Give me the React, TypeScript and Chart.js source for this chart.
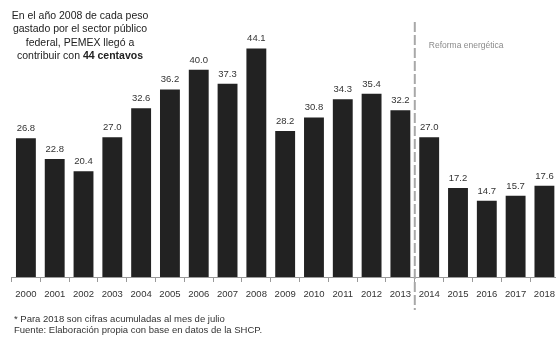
import React, { useEffect, useRef } from "react";
import { Chart, registerables } from "chart.js";

Chart.register(...registerables);

const years = ["2000","2001","2002","2003","2004","2005","2006","2007","2008","2009","2010","2011","2012","2013","2014","2015","2016","2017","2018"];
const values = [26.8, 22.8, 20.4, 27.0, 32.6, 36.2, 40.0, 37.3, 44.1, 28.2, 30.8, 34.3, 35.4, 32.2, 27.0, 17.2, 14.7, 15.7, 17.6];
const reformIndex = 14;
const titleLines = ["En el año 2008 de cada peso", "gastado por el sector público", "federal, PEMEX llegó a"];
const titleLast = "contribuir con ";
const titleBold = "44 centavos";
const reformLabel = "Reforma energética";
const footnotes = ["* Para 2018 son cifras acumuladas al mes de julio", "Fuente: Elaboración propia con base en datos de la SHCP."];

const FONT = "'Liberation Sans', Arial, sans-serif";

const overlay = {
  id: "overlay",
  afterDatasetsDraw(chart: any) {
    const ctx = chart.ctx;
    const meta = chart.getDatasetMeta(0);
    ctx.save();
    ctx.fillStyle = "#333";
    ctx.font = `9.5px ${FONT}`;
    ctx.textAlign = "center";
    ctx.textBaseline = "bottom";
    meta.data.forEach((bar: any, i: number) => {
      ctx.fillText(values[i].toFixed(1), bar.x, bar.y - 5);
    });
    const xs = chart.scales.x;
    const lx = (xs.getPixelForValue(reformIndex - 1) + xs.getPixelForValue(reformIndex)) / 2;
    ctx.strokeStyle = "#a8a8a8";
    ctx.lineWidth = 2;
    ctx.setLineDash([10, 3]);
    ctx.beginPath();
    ctx.moveTo(lx, 22);
    ctx.lineTo(lx, 310);
    ctx.stroke();
    ctx.setLineDash([]);
    ctx.fillStyle = "#8a8a8a";
    ctx.textAlign = "left";
    ctx.textBaseline = "middle";
    ctx.font = `8.5px ${FONT}`;
    ctx.fillText(reformLabel, lx + 14, 46);
    // title
    ctx.fillStyle = "#222";
    ctx.textAlign = "center";
    const fs = 10.5;
    ctx.font = `${fs}px ${FONT}`;
    const cx = 80;
    titleLines.forEach((t, i) => ctx.fillText(t, cx, 16 + i * 13.5));
    const y4 = 16 + 3 * 13.5;
    const w1 = ctx.measureText(titleLast).width;
    ctx.font = `bold ${fs}px ${FONT}`;
    const w2 = ctx.measureText(titleBold).width;
    const sx = cx - (w1 + w2) / 2;
    ctx.textAlign = "left";
    ctx.font = `${fs}px ${FONT}`;
    ctx.fillText(titleLast, sx, y4);
    ctx.font = `bold ${fs}px ${FONT}`;
    ctx.fillText(titleBold, sx + w1, y4);
    // footnotes
    ctx.fillStyle = "#333";
    ctx.font = `9.5px ${FONT}`;
    footnotes.forEach((t, i) => ctx.fillText(t, 14, 319 + i * 11.5));
    ctx.restore();
  },
};

export default function App() {
  const ref = useRef<HTMLCanvasElement>(null);
  useEffect(() => {
    const chart = new Chart(ref.current!, {
      type: "bar",
      data: {
        labels: years,
        datasets: [{ data: values, backgroundColor: "#222", borderWidth: 0, barPercentage: 0.69, categoryPercentage: 1 }],
      },
      options: {
        animation: false,
        responsive: false,
        maintainAspectRatio: false,
        layout: { padding: { left: 11.5, right: 0.5, top: 18, bottom: 0 } },
        plugins: { legend: { display: false }, tooltip: { enabled: false } },
        scales: {
          x: {
            afterFit(scale: any) { scale.height = 62; },
            grid: { display: true, drawOnChartArea: false, drawTicks: true, tickLength: 5, color: "#999", offset: true },
            border: { display: true, color: "#999" },
            ticks: { color: "#333", font: { family: FONT, size: 9.5 }, padding: 7, maxRotation: 0, autoSkip: false },
          },
          y: { display: false, min: 0, max: 50 },
        },
      },
      plugins: [overlay],
    });
    return () => chart.destroy();
  }, []);
  return (
    <div style={{ position: "fixed", left: 0, top: 0, width: 562, height: 339, background: "#fff" }}>
      <canvas ref={ref} width={562} height={339} style={{ display: "block" }} />
    </div>
  );
}
